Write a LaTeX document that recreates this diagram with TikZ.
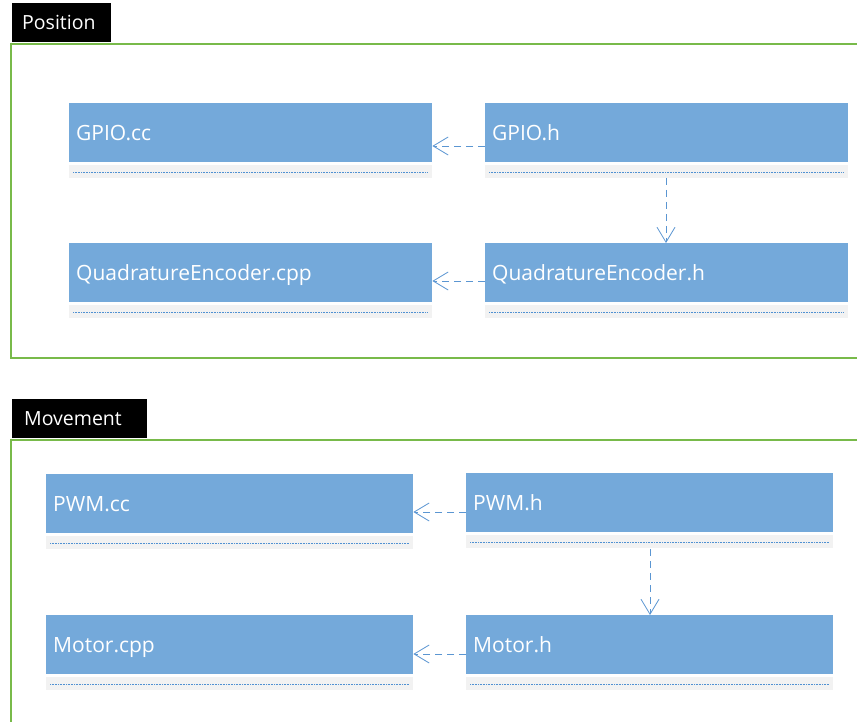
\documentclass[tikz,border=0pt]{standalone}
\usepackage{fontspec}
\setmainfont{Open Sans}
\usetikzlibrary{arrows.meta}
\definecolor{clsblue}{RGB}{116,169,218}
\definecolor{strip}{RGB}{242,242,242}
\definecolor{dotblue}{RGB}{80,145,210}
\definecolor{frame}{RGB}{120,186,74}
\definecolor{linkblue}{RGB}{91,150,210}
\tikzset{
  x=1pt, y=-1pt,
  cls/.style={fill=clsblue, draw=none, minimum height=59pt, inner sep=0pt,
    text=white, font=\fontsize{21}{24}\selectfont, anchor=north west},
  tag/.style={fill=black, inner sep=0pt, anchor=north west},
  tagtext/.style={text=white, anchor=west, inner sep=0pt,
    font=\fontsize{19.5}{22}\selectfont},
  grp/.style={draw=frame, line width=2.6pt},
  dep/.style={draw=linkblue, line width=0.8pt, dash pattern=on 7pt off 5pt,
    -{Straight Barb[length=15pt,width=18pt,line width=0.8pt]}},
}
% a class box: blue title bar with a grey compartment and a dotted rule
\newcommand{\classbox}[5]{% name, x, y, width, label
  \node[cls, minimum width=#4pt, text width=#4pt-14pt, align=left, text depth=0pt,
        inner xsep=7pt] (#1) at (#2,#3) {#5};
  \fill[strip] (#2,#3+62) rectangle ++(#4,13);
  \draw[dotblue, line width=0.8pt, dash pattern=on 1pt off 0.6pt]
        (#2+4,#3+69) -- ++(#4-8,0);
  \coordinate (#1-bottom) at (#2+#4/2,#3+75);
}
\begin{document}
\begin{tikzpicture}
\useasboundingbox (0,0) rectangle (857,722);
\fill[white] (0,0) rectangle (857,722);

% ---- Position group ----
\draw[grp] (870,44) -- (11,44) -- (11,358) -- (870,358);
\node[tag, minimum width=99pt, minimum height=39pt] (tagpos) at (12,3) {};
\node[tagtext] (tagposlabel) at (22,22.5) {Position};

\classbox{gpiocc}{69}{103}{363}{GPIO.cc}
\classbox{gpioh}{485}{103}{363}{GPIO.h}
\classbox{qecpp}{69}{243}{363}{QuadratureEncoder.cpp}
\classbox{qeh}{485}{243}{363}{QuadratureEncoder.h}

\draw[dep] (gpioh.west |- 0,146) -- (gpiocc.east |- 0,146);
\draw[dep] (qeh.west |- 0,281) -- (qecpp.east |- 0,281);
\draw[dep] (666,178) -- (qeh.north -| 666,0);

% ---- Movement group ----
\draw[grp] (870,440) -- (11,440) -- (11,730);
\node[tag, minimum width=135pt, minimum height=39pt] (tagmov) at (12,399) {};
\node[tagtext] (tagmovlabel) at (24,418.5) {Movement};

\classbox{pwmcc}{46}{474}{367}{PWM.cc}
\classbox{pwmh}{466}{473}{367}{PWM.h}
\classbox{motcpp}{46}{615}{367}{Motor.cpp}
\classbox{moth}{466}{615}{367}{Motor.h}

\draw[dep] (pwmh.west |- 0,512) -- (pwmcc.east |- 0,512);
\draw[dep] (moth.west |- 0,654) -- (motcpp.east |- 0,654);
\draw[dep] (650,549) -- (moth.north -| 650,0);
\end{tikzpicture}
\end{document}
